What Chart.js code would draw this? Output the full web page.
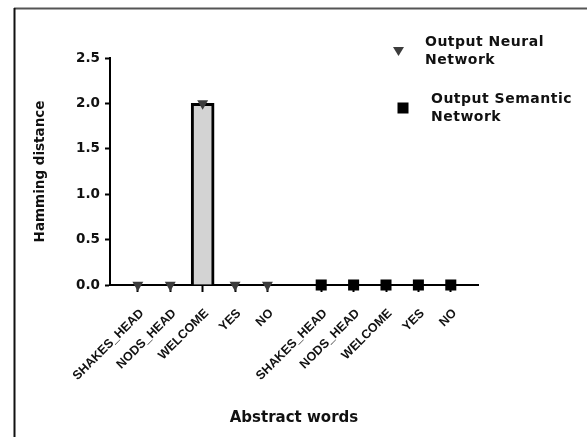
<!DOCTYPE html>
<html>
<head>
<meta charset="utf-8">
<script src="https://cdn.jsdelivr.net/npm/chart.js@4/dist/chart.umd.min.js"></script>
<style>
  html, body { margin: 0; padding: 0; background: #fff; }
  #wrap { width: 587px; height: 437px; position: relative; }
</style>
</head>
<body>
<div id="wrap"><canvas id="chart" width="587" height="437"></canvas></div>
<script>
// Abstract words and the Hamming distance of each network's output
const words = ['SHAKES_HEAD', 'NODS_HEAD', 'WELCOME', 'YES', 'NO'];
const neuralNet = [0, 0, 2, 0, 0];
const semanticNet = [0, 0, 0, 0, 0];
const yTickValues = [0, 0.5, 1.0, 1.5, 2.0, 2.5];
const seriesNames = [['Output Neural', 'Network'], ['Output Semantic', 'Network']];

// two groups of categories side by side on one axis, separated by a gap
const GROUP_START = [0, 5.66];
const catPos = (g, i) => GROUP_START[g] + i;
const allPositions = [...words.map((w, i) => catPos(0, i)), ...words.map((w, i) => catPos(1, i))];
const allLabels = [...words, ...words];

const barPoints = [
  ...neuralNet.map((v, i) => ({ x: catPos(0, i), y: v })),
  ...semanticNet.map((v, i) => ({ x: catPos(1, i), y: v }))
];
const neuralPoints = neuralNet.map((v, i) => ({ x: catPos(0, i), y: v }));
const semanticPoints = semanticNet.map((v, i) => ({ x: catPos(1, i), y: v }));

const BOLD = 'bold';
const FAMILY = '"DejaVu Sans", sans-serif';
const TICK_FAMILY = '"Liberation Sans", Arial, sans-serif';

// frame lines and the two-entry legend
const decorations = {
  id: 'decorations',
  beforeDraw(chart) {
    const ctx = chart.ctx;
    ctx.save();
    ctx.fillStyle = '#ffffff';
    ctx.fillRect(0, 0, chart.width, chart.height);
    ctx.strokeStyle = '#555555';
    ctx.lineWidth = 2;
    ctx.beginPath();
    ctx.moveTo(14, 8.5);
    ctx.lineTo(587, 8.5);
    ctx.stroke();
    ctx.strokeStyle = '#111111';
    ctx.beginPath();
    ctx.moveTo(14.5, 8);
    ctx.lineTo(14.5, 437);
    ctx.stroke();
    ctx.restore();
  },
  afterDraw(chart) {
    const ctx = chart.ctx;
    ctx.save();
    // triangle entry
    ctx.fillStyle = '#3c3c3c';
    ctx.beginPath();
    ctx.moveTo(393, 47);
    ctx.lineTo(404, 47);
    ctx.lineTo(398.5, 56);
    ctx.closePath();
    ctx.fill();
    // square entry
    ctx.fillStyle = '#000000';
    ctx.fillRect(397.5, 102.5, 11, 11);

    ctx.fillStyle = '#111111';
    ctx.font = BOLD + ' 14px ' + FAMILY;
    ctx.letterSpacing = '0.5px';
    ctx.textBaseline = 'middle';
    ctx.textAlign = 'left';
    ctx.fillText(seriesNames[0][0], 425, 42);
    ctx.fillText(seriesNames[0][1], 425, 60);
    ctx.fillText(seriesNames[1][0], 431, 99);
    ctx.fillText(seriesNames[1][1], 431, 117);
    ctx.restore();
  }
};

new Chart(document.getElementById('chart'), {
  data: {
    datasets: [
      {
        type: 'bar',
        data: barPoints,
        backgroundColor: '#d3d3d3',
        borderColor: '#000000',
        borderWidth: 3,
        barThickness: 23,
        order: 3
      },
      {
        type: 'scatter',
        data: neuralPoints,
        pointStyle: 'triangle',
        rotation: 180,
        radius: 6.3,
        backgroundColor: '#3c3c3c',
        borderColor: '#3c3c3c',
        borderWidth: 0,
        clip: false,
        order: 1
      },
      {
        type: 'scatter',
        data: semanticPoints,
        pointStyle: 'rect',
        radius: 7.8,
        backgroundColor: '#000000',
        borderColor: '#000000',
        borderWidth: 0,
        clip: false,
        order: 2
      }
    ]
  },
  options: {
    responsive: false,
    animation: false,
    layout: { padding: { top: 58, right: 109, left: 14, bottom: 0 } },
    plugins: {
      legend: { display: false },
      tooltip: { enabled: false }
    },
    scales: {
      x: {
        type: 'linear',
        offset: false,
        min: -0.86,
        max: 10.5,
        afterBuildTicks(axis) {
          axis.ticks = allPositions.map(v => ({ value: v }));
        },
        afterFit(axis) { axis.height = 152; },
        ticks: {
          autoSkip: false,
          minRotation: 45,
          maxRotation: 45,
          padding: 14,
          labelOffset: 4,
          color: '#111111',
          font: { family: TICK_FAMILY, weight: BOLD, size: 12.5 },
          callback: (value, index) => allLabels[index]
        },
        grid: {
          offset: false,
          drawOnChartArea: false,
          drawTicks: true,
          tickLength: 7,
          tickWidth: 2,
          color: '#000000'
        },
        border: { display: true, color: '#000000', width: 2 },
        title: {
          display: true,
          text: 'Abstract words',
          color: '#111111',
          font: { family: FAMILY, weight: BOLD, size: 15 },
          padding: { top: 0, bottom: 10 }
        }
      },
      y: {
        type: 'linear',
        min: 0,
        max: 2.5,
        afterBuildTicks(axis) {
          axis.ticks = yTickValues.map(v => ({ value: v }));
        },
        afterFit(axis) { axis.width = 96; },
        ticks: {
          padding: 5,
          color: '#111111',
          font: { family: FAMILY, weight: BOLD, size: 13.5 },
          callback: v => v.toFixed(1)
        },
        grid: {
          drawOnChartArea: false,
          drawTicks: true,
          tickLength: 5,
          tickWidth: 2,
          color: '#000000'
        },
        border: { display: true, color: '#000000', width: 2 },
        title: {
          display: true,
          text: 'Hamming distance',
          color: '#111111',
          font: { family: FAMILY, weight: BOLD, size: 13.5 },
          padding: { top: 18, bottom: 0 }
        }
      }
    }
  },
  plugins: [decorations]
});
</script>
</body>
</html>
